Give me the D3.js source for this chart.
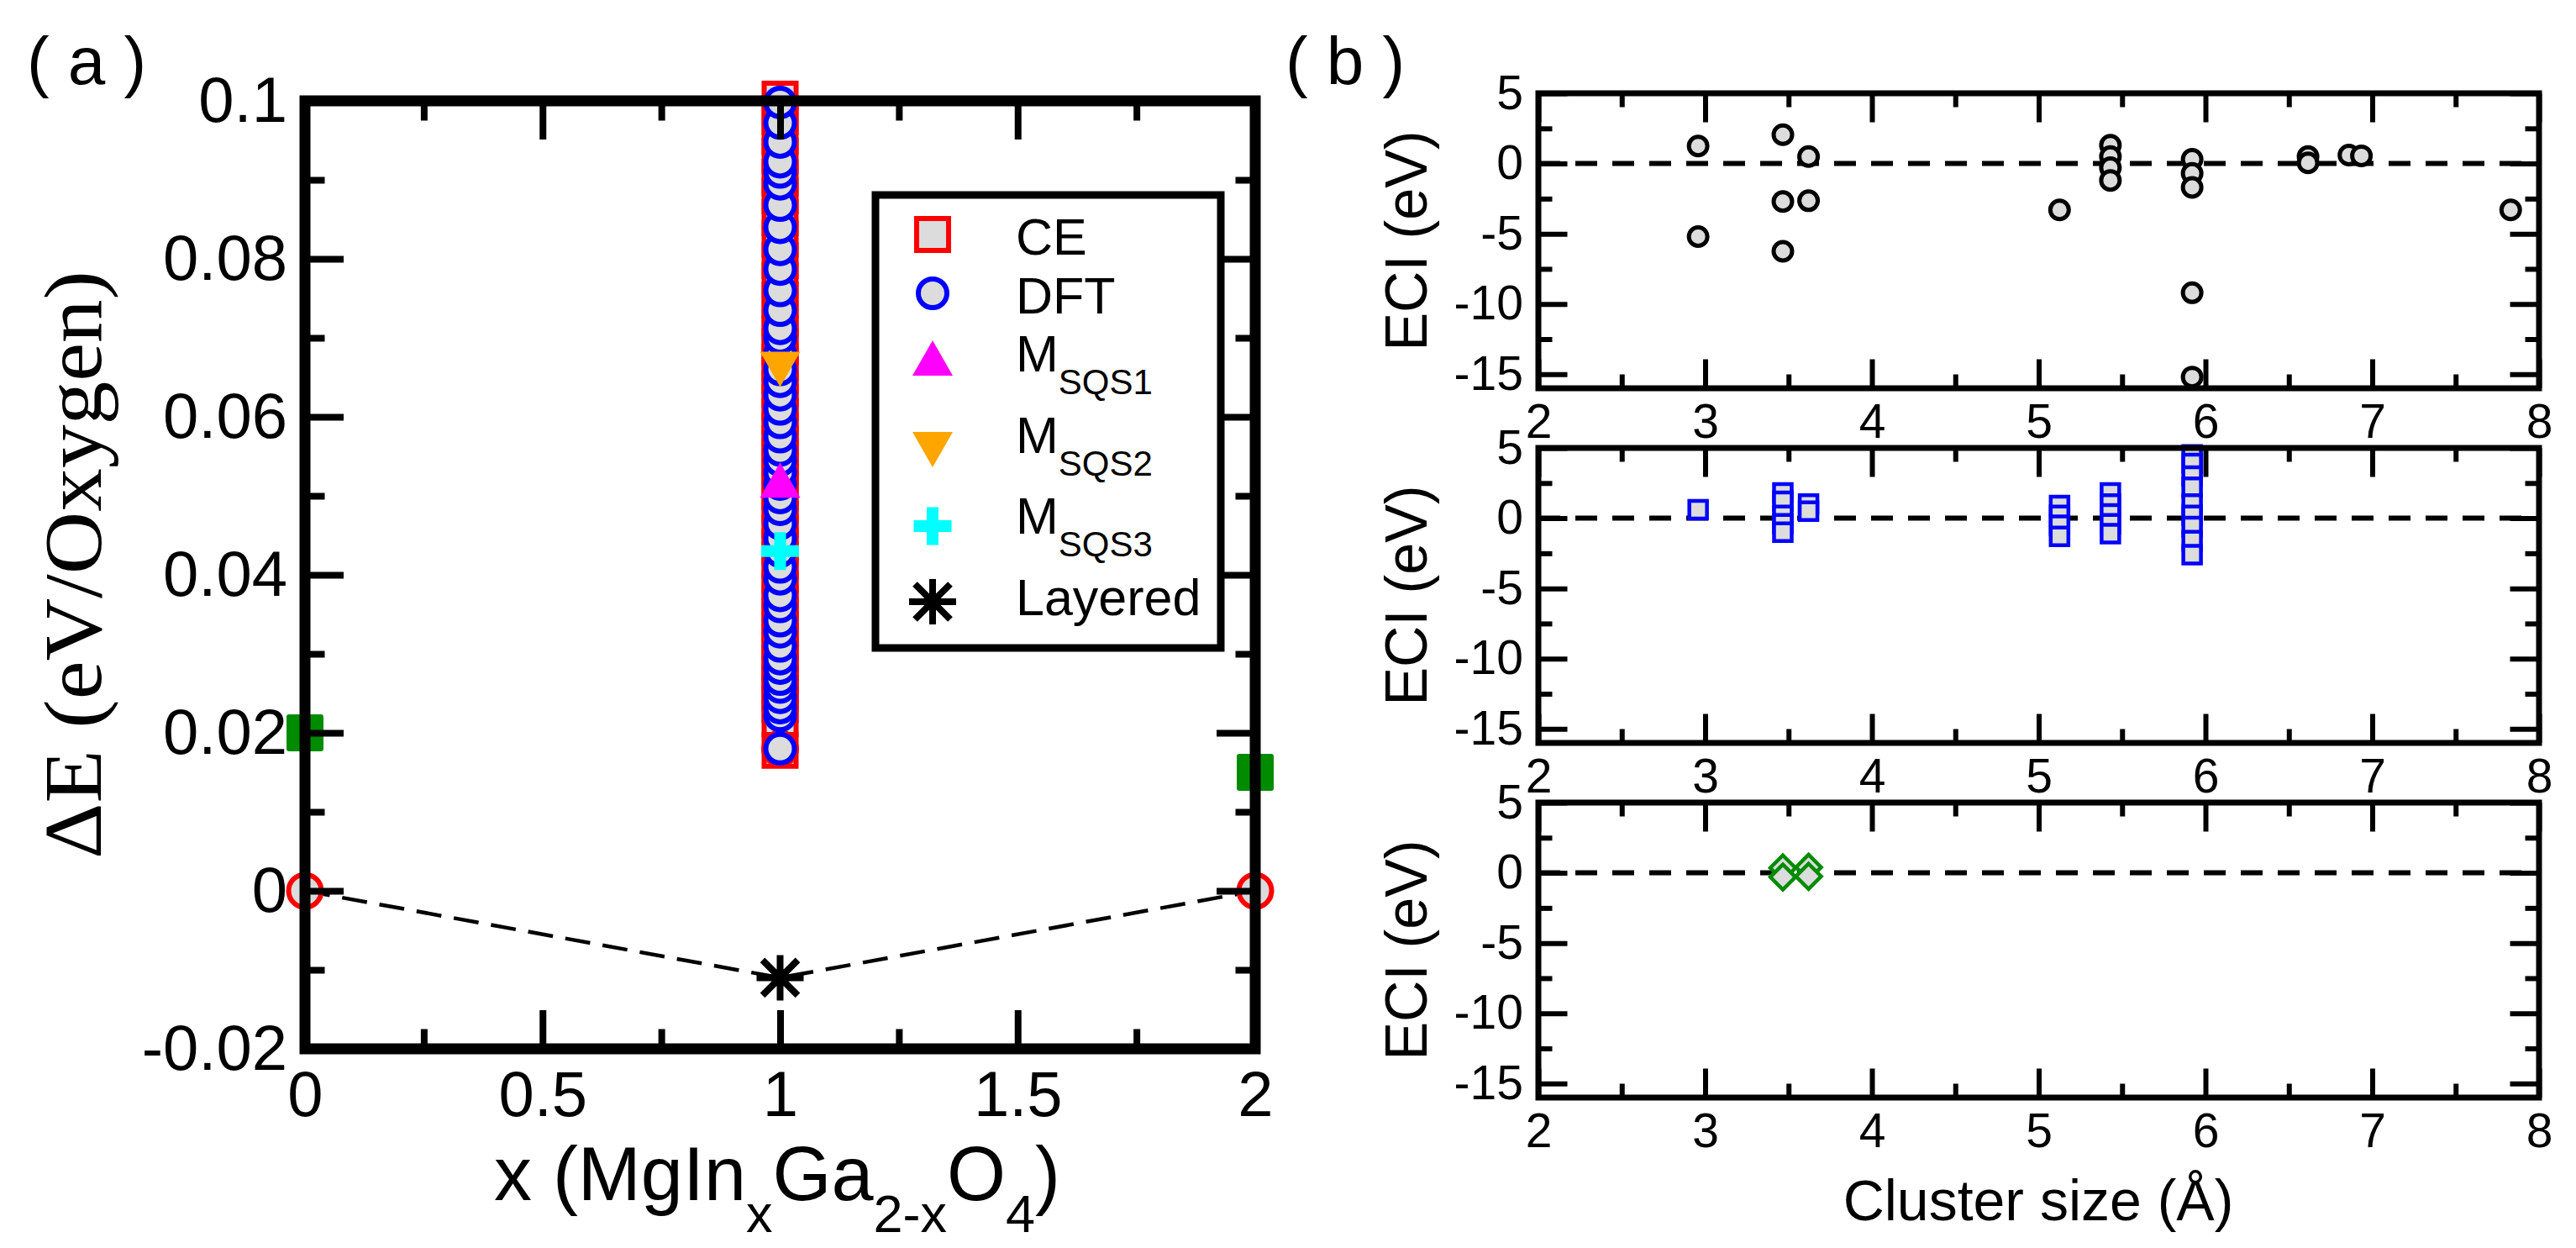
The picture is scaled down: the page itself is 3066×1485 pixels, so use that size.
<!DOCTYPE html>
<html><head><meta charset="utf-8">
<script src="https://cdn.jsdelivr.net/npm/d3@7"></script>
<style>body{margin:0;background:#fff} svg{display:block}</style>
</head><body><svg id="c" width="3066" height="1485"></svg>
<script>
// ---------------- DATA ----------------
// Panel (a): formation energy vs composition x in MgIn_xGa_(2-x)O4
const xTicksA = [0, 0.5, 1, 1.5, 2];
const xTickLabelsA = ["0", "0.5", "1", "1.5", "2"];
const xMinorA = [0.25, 0.75, 1.25, 1.75];
const yTicksA = [-0.02, 0, 0.02, 0.04, 0.06, 0.08, 0.1];
const yTickLabelsA = ["-0.02", "0", "0.02", "0.04", "0.06", "0.08", "0.1"];
const yMinorA = [-0.01, 0.01, 0.03, 0.05, 0.07, 0.09];

const ceComposition = 1;
const ceEnergy = [0.0178, 0.0218, 0.0236, 0.0250, 0.0262, 0.0275, 0.0288, 0.0300, 0.0316, 0.0332,
  0.0348, 0.0364, 0.0380, 0.0400, 0.0418, 0.0436, 0.0452, 0.0470, 0.0488, 0.0505, 0.0520, 0.0536,
  0.0550, 0.0566, 0.0582, 0.0600, 0.0618, 0.0635, 0.0652, 0.0668, 0.0688, 0.0705, 0.0725, 0.0748,
  0.0772, 0.0798, 0.0825, 0.0852, 0.0880, 0.0903, 0.0930, 0.0955, 0.0980, 0.1002];
const dftComposition = 1;
const dftEnergy = [0.0180, 0.0222, 0.0232, 0.0245, 0.0258, 0.0268, 0.0282, 0.0294, 0.0310, 0.0328,
  0.0342, 0.0360, 0.0374, 0.0395, 0.0410, 0.0430, 0.0446, 0.0465, 0.0483, 0.0498, 0.0515, 0.0530,
  0.0545, 0.0558, 0.0575, 0.0593, 0.0610, 0.0628, 0.0645, 0.0660, 0.0680, 0.0700, 0.0712, 0.0735,
  0.0760, 0.0787, 0.0812, 0.0840, 0.0868, 0.0895, 0.0910, 0.0923, 0.0948, 0.0972, 0.0998];
const groundX = [0, 1, 2];
const groundE = [0, 0.018, 0];
const greenX = [0, 2];
const greenE = [0.020, 0.015];
const sqs1X = [1], sqs1E = [0.052];
const sqs2X = [1], sqs2E = [0.066];
const sqs3X = [1], sqs3E = [0.043];
const layeredX = [1], layeredE = [-0.011];
const hullX = [0, 1, 2];
const hullE = [0, -0.011, 0];
const legendLabels = ["CE", "DFT", "M|SQS1", "M|SQS2", "M|SQS3", "Layered"];

// Panel (b): ECI vs cluster size
const xTicksB = [2, 3, 4, 5, 6, 7, 8];
const xTickLabelsB = ["2", "3", "4", "5", "6", "7", "8"];
const xMinorB = [2.5, 3.5, 4.5, 5.5, 6.5, 7.5];
const yTicksB = [-15, -10, -5, 0, 5];
const yTickLabelsB = ["-15", "-10", "-5", "0", "5"];
const yMinorB = [-12.5, -7.5, -2.5, 2.5];

const pairSize = [2.958, 2.958, 3.466, 3.466, 3.466, 3.62, 3.62, 5.125, 5.43, 5.43, 5.43, 5.43,
  5.92, 5.92, 5.92, 5.92, 5.92, 6.615, 6.615, 6.86, 6.935, 7.83];
const pairECI = [1.25, -5.2, 2.05, -2.7, -6.25, 0.5, -2.65, -3.3, 1.3, 0.5, -0.3, -1.2,
  0.3, -0.7, -1.7, -9.2, -15.2, 0.5, 0.05, 0.6, 0.55, -3.3];
const tripletSize = [2.958, 3.466, 3.466, 3.466, 3.466, 3.466, 3.62, 3.62, 5.125, 5.125, 5.125, 5.125,
  5.43, 5.43, 5.43, 5.43, 5.43, 5.92, 5.92, 5.92, 5.92, 5.92, 5.92, 5.92, 5.92, 5.92];
const tripletECI = [0.6, 1.8, 1.2, 0.2, -0.4, -1.0, 1.0, 0.5, 0.9, 0.2, -0.5, -1.3,
  1.8, 1.0, 0.3, -0.4, -1.1, 4.5, 3.9, 3.0, 2.2, 1.0, 0.2, -0.6, -1.6, -2.6];
const quadSize = [3.466, 3.466, 3.62, 3.62];
const quadECI = [0.35, -0.3, 0.4, -0.25];

// ---------------- DRAWING ----------------
const FONT = '"Liberation Sans", Arial, Helvetica, sans-serif';
const SERIF = '"Liberation Serif", "Times New Roman", serif';
const GRAY = "#dcdcdc";
const svg = d3.select("#c");
svg.append("rect").attr("width", 3066).attr("height", 1485).attr("fill", "#fff");

function zip(a, b) { return a.map((v, i) => [v, b[i]]); }

function frameAxes(g, x, y, o) {
  const [x0, x1] = x.range(), [yb, yt] = y.range();
  const mk = (fn, s, vals, len, pad, fmt) => fn(s).tickValues(vals).tickSizeInner(-len).tickSizeOuter(0).tickPadding(pad).tickFormat(fmt);
  const blank = () => "";
  g.append("g").attr("transform", `translate(0,${yb})`).call(mk(d3.axisBottom, x, o.xMajor, o.major, o.xpad, (d, i) => o.xLabels[i]));
  g.append("g").attr("transform", `translate(0,${yb})`).call(mk(d3.axisBottom, x, o.xMinor, o.minor, 0, blank));
  g.append("g").attr("transform", `translate(0,${yt})`).call(mk(d3.axisTop, x, o.xMajor, o.major, 0, blank));
  g.append("g").attr("transform", `translate(0,${yt})`).call(mk(d3.axisTop, x, o.xMinor, o.minor, 0, blank));
  g.append("g").attr("transform", `translate(${x0},0)`).call(mk(d3.axisLeft, y, o.yMajor, o.major, o.ypad, (d, i) => o.yLabels[i]));
  g.append("g").attr("transform", `translate(${x0},0)`).call(mk(d3.axisLeft, y, o.yMinor, o.minor, 0, blank));
  g.append("g").attr("transform", `translate(${x1},0)`).call(mk(d3.axisRight, y, o.yMajor, o.major, 0, blank));
  g.append("g").attr("transform", `translate(${x1},0)`).call(mk(d3.axisRight, y, o.yMinor, o.minor, 0, blank));
  g.selectAll(".domain").remove();
  g.selectAll(".tick line").attr("stroke", "#000").attr("stroke-width", o.tw);
  g.selectAll(".tick text").attr("font-family", FONT).attr("font-size", o.fs).attr("fill", "#000");
  g.append("rect").attr("x", x0).attr("y", yt).attr("width", x1 - x0).attr("height", yb - yt)
    .attr("fill", "none").attr("stroke", "#000").attr("stroke-width", o.fw);
}

// marker path generators (shape only; placement comes from the scales)
const sqPath = s => `M${-s/2},${-s/2}H${s/2}V${s/2}H${-s/2}Z`;
const triUp = (w, h) => `M0,${-h/2}L${w/2},${h/2}L${-w/2},${h/2}Z`;
const triDown = (w, h) => `M0,${h/2}L${w/2},${-h/2}L${-w/2},${-h/2}Z`;
const plusPath = (w, t) => `M${-t/2},${-w/2}H${t/2}V${-t/2}H${w/2}V${t/2}H${t/2}V${w/2}H${-t/2}V${t/2}H${-w/2}V${-t/2}H${-t/2}Z`;
const starPath = () => "M-28,0H28M0,-27V27M-21,-21L21,21M-21,21L21,-21";
const diaPath = r => `M0,${-r}L${r},0L0,${r}L${-r},0Z`;

// ---- Panel (a)
const ax = d3.scaleLinear().domain([0, 2]).range([363, 1494]);
const ay = d3.scaleLinear().domain([-0.02, 0.1]).range([1248, 120]);
const gA = svg.append("g");

gA.append("path").datum(zip(hullX, hullE))
  .attr("d", d3.line().x(d => ax(d[0])).y(d => ay(d[1])))
  .attr("fill", "none").attr("stroke", "#000").attr("stroke-width", 4.5).attr("stroke-dasharray", "30,15");

gA.selectAll(".ce").data(ceEnergy).join("path")
  .attr("transform", d => `translate(${ax(ceComposition)},${ay(d)})`)
  .attr("d", sqPath(38)).attr("fill", GRAY).attr("stroke", "#ff0000").attr("stroke-width", 6);
gA.selectAll(".gs").data(zip(groundX, groundE)).join("circle")
  .attr("cx", d => ax(d[0])).attr("cy", d => ay(d[1])).attr("r", 19.5)
  .attr("fill", GRAY).attr("stroke", "#ff0000").attr("stroke-width", 6);
gA.selectAll(".dft").data(dftEnergy).join("circle")
  .attr("cx", ax(dftComposition)).attr("cy", d => ay(d)).attr("r", 17)
  .attr("fill", GRAY).attr("stroke", "#0000ff").attr("stroke-width", 6);
gA.selectAll(".s2").data(zip(sqs2X, sqs2E)).join("path")
  .attr("transform", d => `translate(${ax(d[0])},${ay(d[1])})`).attr("d", triDown(48, 42)).attr("fill", "#ffa500");
gA.selectAll(".s1").data(zip(sqs1X, sqs1E)).join("path")
  .attr("transform", d => `translate(${ax(d[0])},${ay(d[1])})`).attr("d", triUp(48, 42)).attr("fill", "#ff00ff");
gA.selectAll(".s3").data(zip(sqs3X, sqs3E)).join("path")
  .attr("transform", d => `translate(${ax(d[0])},${ay(d[1])})`).attr("d", plusPath(45, 14)).attr("fill", "#00ffff");
gA.selectAll(".ly").data(zip(layeredX, layeredE)).join("path")
  .attr("transform", d => `translate(${ax(d[0])},${ay(d[1])})`).attr("d", starPath())
  .attr("fill", "none").attr("stroke", "#000").attr("stroke-width", 8);
gA.selectAll(".gr").data(zip(greenX, greenE)).join("rect")
  .attr("x", d => ax(d[0]) - 22).attr("y", d => ay(d[1]) - 22).attr("width", 44).attr("height", 44)
  .attr("rx", 3).attr("fill", "#008b00");

frameAxes(gA, ax, ay, {
  xMajor: xTicksA, xMinor: xMinorA, xLabels: xTickLabelsA,
  yMajor: yTicksA, yMinor: yMinorA, yLabels: yTickLabelsA,
  major: 46, minor: 23.5, tw: 8, fw: 13, fs: 76, xpad: 26, ypad: 21
});

// legend
const lg = gA.append("g");
lg.append("rect").attr("x", 1042).attr("y", 232).attr("width", 411).attr("height", 539)
  .attr("fill", "#fff").attr("stroke", "#000").attr("stroke-width", 9);
const legMarkY = [279, 349, 426, 535, 626, 716];
const legTextY = [303, 373, 442, 539, 635, 732];
const legMarkers = [
  g => g.append("path").attr("d", sqPath(38)).attr("fill", GRAY).attr("stroke", "#ff0000").attr("stroke-width", 6),
  g => g.append("circle").attr("r", 17).attr("fill", GRAY).attr("stroke", "#0000ff").attr("stroke-width", 6),
  g => g.append("path").attr("d", triUp(48, 42)).attr("fill", "#ff00ff"),
  g => g.append("path").attr("d", triDown(48, 42)).attr("fill", "#ffa500"),
  g => g.append("path").attr("d", plusPath(45, 14)).attr("fill", "#00ffff"),
  g => g.append("path").attr("d", starPath()).attr("fill", "none").attr("stroke", "#000").attr("stroke-width", 8)
];
legendLabels.forEach((lab, i) => {
  legMarkers[i](lg.append("g").attr("transform", `translate(1110,${legMarkY[i]})`));
  const t = lg.append("text").attr("x", 1209).attr("y", legTextY[i])
    .attr("font-family", FONT).attr("font-size", 61).attr("fill", "#000");
  const parts = lab.split("|");
  t.append("tspan").text(parts[0]);
  if (parts[1]) t.append("tspan").attr("font-size", 42).attr("dy", 27).text(parts[1]);
});

// labels (a)
svg.append("text").attr("x", 32).attr("y", 100).attr("font-family", FONT).attr("font-size", 80)
  .attr("xml:space", "preserve").text("( a )");
svg.append("text").attr("transform", "translate(120,672) rotate(-90)").attr("text-anchor", "middle")
  .attr("font-family", SERIF).attr("font-size", 98).attr("textLength", 700).attr("lengthAdjust", "spacingAndGlyphs")
  .text("\u0394E (eV/Oxygen)");
const xl = svg.append("text").attr("x", 925).attr("y", 1428).attr("text-anchor", "middle")
  .attr("font-family", FONT).attr("font-size", 90);
[["x (MgIn", 0], ["x", 1], ["Ga", 0], ["2-x", 1], ["O", 0], ["4", 1], [")", 0]].forEach((p, i, arr) => {
  const prevSub = i > 0 ? arr[i - 1][1] : 0;
  const dy = (p[1] - prevSub) * 38;
  const ts = xl.append("tspan").attr("dy", dy).text(p[0]);
  if (p[1]) ts.attr("font-size", 63);
});

// ---- Panel (b)
const bx = d3.scaleLinear().domain([2, 8]).range([1831, 3022]);
const subTops = [111, 533, 955];
const subH = 351;
const subSets = [
  { xs: pairSize, ys: pairECI, kind: "circle" },
  { xs: tripletSize, ys: tripletECI, kind: "square" },
  { xs: quadSize, ys: quadECI, kind: "diamond" }
];
subSets.forEach((set, k) => {
  const by = d3.scaleLinear().domain([-16, 5]).range([subTops[k] + subH, subTops[k]]);
  const g = svg.append("g");
  g.append("line").attr("x1", bx(2)).attr("x2", bx(8)).attr("y1", by(0)).attr("y2", by(0))
    .attr("stroke", "#000").attr("stroke-width", 6).attr("stroke-dasharray", "26,18");
  const pts = zip(set.xs, set.ys);
  if (set.kind === "circle") {
    g.selectAll("circle.p").data(pts).join("circle").attr("class", "p")
      .attr("cx", d => bx(d[0])).attr("cy", d => by(d[1])).attr("r", 11)
      .attr("fill", GRAY).attr("stroke", "#000").attr("stroke-width", 5);
  } else if (set.kind === "square") {
    g.selectAll("path.p").data(pts).join("path").attr("class", "p")
      .attr("transform", d => `translate(${bx(d[0])},${by(d[1])})`).attr("d", sqPath(21))
      .attr("fill", GRAY).attr("stroke", "#0000ff").attr("stroke-width", 4.5);
  } else {
    g.selectAll("path.p").data(pts).join("path").attr("class", "p")
      .attr("transform", d => `translate(${bx(d[0])},${by(d[1])})`).attr("d", diaPath(15))
      .attr("fill", GRAY).attr("stroke", "#008b00").attr("stroke-width", 4.5);
  }
  frameAxes(g, bx, by, {
    xMajor: xTicksB, xMinor: xMinorB, xLabels: xTickLabelsB,
    yMajor: yTicksB, yMinor: yMinorB, yLabels: yTickLabelsB,
    major: 34.5, minor: 16.5, tw: 6, fw: 7, fs: 57, xpad: 18.5, ypad: 18
  });
  svg.append("text").attr("transform", `translate(1698,${subTops[k] + subH / 2}) rotate(-90)`)
    .attr("text-anchor", "middle").attr("font-family", FONT).attr("font-size", 70)
    .attr("textLength", 262).attr("lengthAdjust", "spacingAndGlyphs").text("ECI (eV)");
});
svg.append("text").attr("x", 1530).attr("y", 100).attr("font-family", FONT).attr("font-size", 80)
  .attr("xml:space", "preserve").text("( b )");
svg.append("text").attr("x", 2426).attr("y", 1452).attr("text-anchor", "middle")
  .attr("font-family", FONT).attr("font-size", 68).text("Cluster size (\u00C5)");
</script></body></html>
